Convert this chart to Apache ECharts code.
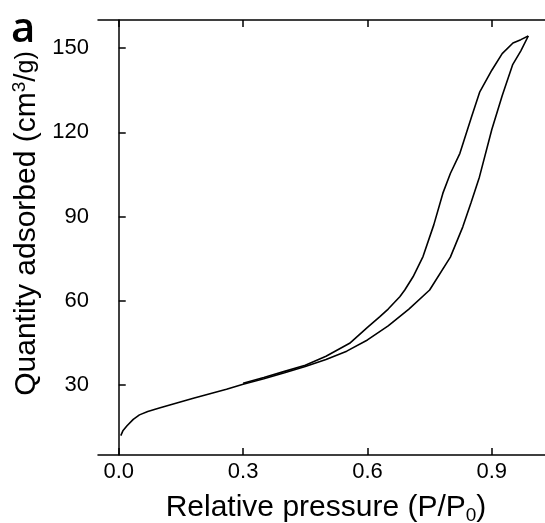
<!DOCTYPE html>
<html>
<head>
<meta charset="utf-8">
<script src="https://cdn.jsdelivr.net/npm/echarts@6/dist/echarts.min.js"></script>
<style>html,body{margin:0;padding:0;background:#fff;}#c{width:545px;height:523px;}</style>
</head>
<body>
<div id="c"></div>
<script>
// Adsorption branch (lower curve)
const adsP = [0.005, 0.01, 0.02, 0.035, 0.05, 0.07, 0.1, 0.14, 0.18, 0.22, 0.26, 0.3, 0.35, 0.4, 0.45, 0.5, 0.55, 0.6, 0.65, 0.7, 0.75, 0.8, 0.83, 0.85, 0.87, 0.9, 0.925, 0.95, 0.97, 0.988];
const adsQ = [11.9, 13.6, 15.4, 17.7, 19.3, 20.5, 21.8, 23.5, 25.2, 26.8, 28.4, 30.2, 32.2, 34.3, 36.5, 39.0, 42.0, 46.0, 51.0, 57.0, 63.8, 75.5, 86.3, 95.0, 104.0, 121.0, 133.0, 144.0, 149.0, 154.3];
// Desorption branch (upper curve)
const desP = [0.988, 0.97, 0.951, 0.925, 0.9, 0.871, 0.85, 0.823, 0.8, 0.782, 0.76, 0.734, 0.71, 0.69, 0.678, 0.65, 0.63, 0.6, 0.557, 0.5, 0.45, 0.4, 0.35, 0.3];
const desQ = [154.3, 153.0, 151.8, 148.0, 142.1, 134.4, 125.0, 112.5, 105.3, 98.3, 87.0, 75.7, 68.5, 63.8, 61.4, 57.0, 54.3, 50.5, 44.8, 40.2, 37.0, 34.8, 32.6, 30.6];
const xTicks = [0, 0.3, 0.6, 0.9];
const yTicks = [30, 60, 90, 120, 150];

const font = '"Liberation Sans", Arial, sans-serif';
const chart = echarts.init(document.getElementById('c'), null, {renderer: 'canvas'});
const axisLine = {show: true, lineStyle: {color: '#000', width: 1.5}};
const tick = (vals) => ({show: true, inside: true, length: 7, lineStyle: {color: '#000', width: 1.5}, customValues: vals});
chart.setOption({
  animation: false,
  backgroundColor: '#fff',
  grid: {left: 98, top: 20, bottom: 68, right: -9, outerBoundsMode: 'none', containLabel: false},
  graphic: [{
    type: 'text', left: 11, top: 9,
    style: {text: 'a', font: '600 42px "Open Sans", "Liberation Sans", sans-serif', fill: '#000'}
  }],
  xAxis: [{
    type: 'value', min: -0.05, max: 1.05,
    axisLine: axisLine, axisTick: tick(xTicks), splitLine: {show: false},
    axisLabel: {customValues: xTicks, formatter: v => v.toFixed(1), color: '#000', fontSize: 22, fontFamily: font, margin: 6},
    name: 'Relative pressure (P/P{sub|0})', nameLocation: 'middle', nameGap: 35,
    nameTextStyle: {color: '#000', fontSize: 30, fontFamily: font, verticalAlign: 'top',
      rich: {sub: {fontSize: 19, fontFamily: font, color: '#000', padding: [16, 0, 0, 0]}}}
  }, {
    type: 'value', position: 'top', min: -0.05, max: 1.05,
    axisLine: axisLine, axisTick: tick(xTicks), axisLabel: {show: false}, splitLine: {show: false}
  }],
  yAxis: [{
    type: 'value', min: 5, max: 160,
    axisLine: axisLine, axisTick: tick(yTicks), splitLine: {show: false},
    axisLabel: {customValues: yTicks, color: '#000', fontSize: 22, fontFamily: font, margin: 9},
    name: 'Quantity adsorbed (cm{sup|3}/{sm|g)}', nameLocation: 'middle', nameGap: 50,
    nameTextStyle: {color: '#000', fontSize: 30, fontFamily: font, padding: [0, 0, 0, 28],
      rich: {
        sup: {fontSize: 19, fontFamily: font, color: '#000', padding: [0, 0, 13, 0]},
        sm: {fontSize: 25, fontFamily: font, color: '#000'}
      }}
  }],
  series: [{
    type: 'line', name: 'Adsorption', showSymbol: false, smooth: false,
    data: adsP.map((p, i) => [p, adsQ[i]]),
    lineStyle: {color: '#000', width: 1.6}
  }, {
    type: 'line', name: 'Desorption', showSymbol: false, smooth: false,
    data: desP.map((p, i) => [p, desQ[i]]),
    lineStyle: {color: '#000', width: 1.6}
  }]
});
</script>
</body>
</html>
